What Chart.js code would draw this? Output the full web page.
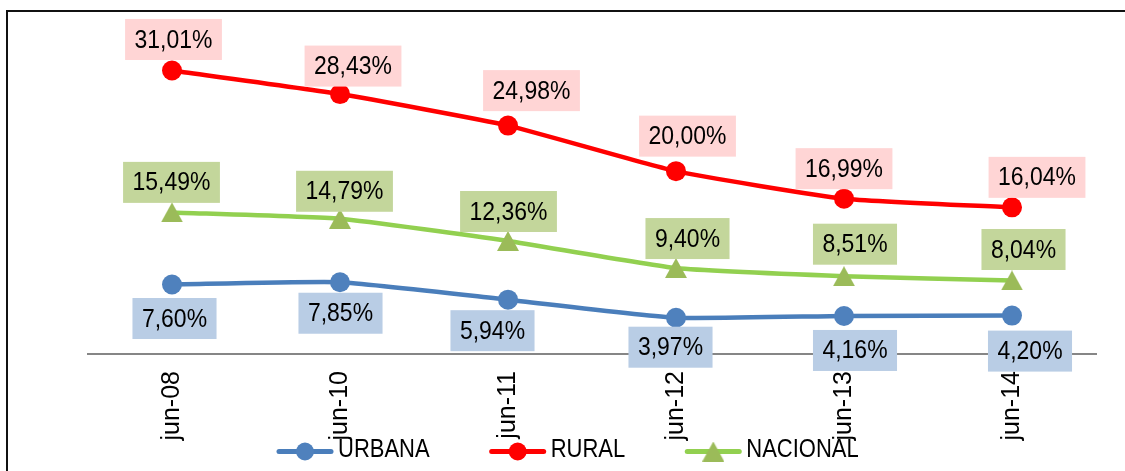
<!DOCTYPE html>
<html>
<head>
<meta charset="utf-8">
<script src="https://cdn.jsdelivr.net/npm/chart.js@4.4.1/dist/chart.umd.min.js"></script>
<style>
  body { margin: 0; background: #fff; }
  #wrap { position: relative; width: 1125px; height: 471px; }
  #frame { position: absolute; left: 6px; top: 10px; right: 0; bottom: 0;
           border-left: 2px solid #111; border-top: 2px solid #111; pointer-events: none; }
</style>
</head>
<body>
<div id="wrap">
  <canvas id="myChart"></canvas>
  <div id="frame"></div>
</div>
<script>
'use strict';
let categories = ['jun-08', 'jun-10', 'jun-11', 'jun-12', 'jun-13', 'jun-14'];
let urbana = [7.60, 7.85, 5.94, 3.97, 4.16, 4.20];
let rural = [31.01, 28.43, 24.98, 20.00, 16.99, 16.04];
let nacional = [15.49, 14.79, 12.36, 9.40, 8.51, 8.04];
let seriesNames = ['URBANA', 'RURAL', 'NACIONAL'];

let fontFam = "'Liberation Sans', Arial, sans-serif";

function pct(v) {
    return v.toFixed(2).replace('.', ',') + '%';
}

// triangle marker centred on its bounding box (like Excel)
function makeTriangle(w, h, color) {
    let c = document.createElement('canvas');
    c.width = w;
    c.height = h;
    let g = c.getContext('2d');
    g.fillStyle = color;
    g.beginPath();
    g.moveTo(0, h);
    g.lineTo(w, h);
    g.lineTo(w / 2, 0);
    g.closePath();
    g.fill();
    return c;
}

let triMarker = makeTriangle(22, 20, '#9BBB59');

// narrow text: normal font squeezed horizontally
function narrowText(ctx, txt, x, y, sx) {
    ctx.save();
    ctx.translate(x, y);
    ctx.scale(sx, 1);
    ctx.fillText(txt, 0, 0);
    ctx.restore();
}

let boxLabels = {
    id: 'boxLabels',
    afterDatasetsDraw(chart, args, opts) {
        let ctx = chart.ctx;
        ctx.save();
        ctx.font = opts.size + 'px ' + fontFam;
        ctx.textAlign = 'center';
        ctx.textBaseline = 'middle';
        chart.data.datasets.forEach(function (ds, i) {
            let meta = chart.getDatasetMeta(i);
            meta.data.forEach(function (pt, j) {
                let txt = pct(ds.data[j]);
                let w = ctx.measureText(txt).width * opts.sx + opts.padX * 2;
                let h = opts.height;
                let cx = pt.x + ds.labelDx[j];
                let cy = pt.y + ds.labelDy[j];
                ctx.fillStyle = ds.labelBg;
                ctx.fillRect(cx - w / 2, cy - h / 2, w, h);
                ctx.fillStyle = '#000';
                narrowText(ctx, txt, cx, cy + 1, opts.sx);
            });
        });
        ctx.restore();
    },
    // legend drawn by hand: line + marker, then label
    afterDraw(chart, args, opts) {
        let ctx = chart.ctx;
        let lg = opts.legend;
        let x = lg.x;
        ctx.save();
        ctx.font = lg.size + 'px ' + fontFam;
        ctx.textAlign = 'left';
        ctx.textBaseline = 'middle';
        chart.data.datasets.forEach(function (ds) {
            ctx.strokeStyle = ds.borderColor;
            ctx.lineWidth = 5;
            ctx.lineCap = 'round';
            ctx.beginPath();
            ctx.moveTo(x + 2, lg.y + 1);
            ctx.lineTo(x + 54, lg.y + 1);
            ctx.stroke();
            ctx.fillStyle = ds.backgroundColor;
            if (ds.pointStyle === 'circle') {
                ctx.beginPath();
                ctx.arc(x + 28, lg.y + 1, 9, 0, Math.PI * 2);
                ctx.fill();
            } else {
                ctx.drawImage(ds.pointStyle, x + 17, lg.y - 9, 22, 20);
            }
            ctx.fillStyle = '#000';
            narrowText(ctx, ds.label, x + 61, lg.y, lg.sx);
            x += 61 + ctx.measureText(ds.label).width * lg.sx + lg.gap;
        });
        ctx.restore();
    }
};

let ctx = document.getElementById('myChart').getContext('2d');
let myChart = new Chart(ctx, {
    type: 'line',
    data: {
        labels: categories,
        datasets: [{
            label: seriesNames[0],
            data: urbana,
            borderColor: '#4A7EBB',
            backgroundColor: '#4F81BD',
            borderWidth: 4.5,
            pointRadius: 10,
            pointBorderWidth: 0,
            pointStyle: 'circle',
            labelBg: '#B9CDE5',
            labelDx: [2.5, 0.5, -15.5, -5.5, 11, 18],
            labelDy: [34, 31, 31, 29.5, 34.5, 35.5]
        }, {
            label: seriesNames[1],
            data: rural,
            borderColor: '#FF0000',
            backgroundColor: '#FF0000',
            borderWidth: 4.5,
            pointRadius: 10,
            pointBorderWidth: 0,
            pointStyle: 'circle',
            labelBg: '#FFD5D5',
            labelDx: [1.5, 13, 23.5, 11.5, 0, 25],
            labelDy: [-31, -28, -35, -35, -30, -30]
        }, {
            label: seriesNames[2],
            data: nacional,
            borderColor: '#92D050',
            backgroundColor: '#9BBB59',
            borderWidth: 4.5,
            pointRadius: 11,
            pointStyle: triMarker,
            labelBg: '#C3D69B',
            labelDx: [-0.5, 4.5, 0.5, 11.5, 11, 11.5],
            labelDy: [-30, -27.5, -29.5, -29.5, -32, -31]
        }]
    },
    options: {
        responsive: true,
        maintainAspectRatio: false,
        animation: false,
        tension: 0.15,
        layout: { padding: { left: 88, right: 29, top: 34, bottom: 0 } },
        scales: {
            x: {
                offset: true,
                grid: { display: false, drawTicks: false },
                border: { display: true, color: '#868686', width: 2 },
                ticks: {
                    minRotation: 90,
                    maxRotation: 90,
                    autoSkip: false,
                    padding: 17,
                    color: '#000',
                    font: { family: fontFam, size: 25 }
                },
                afterFit: function (s) { s.height = 117; }
            },
            y: {
                display: false,
                min: 0,
                max: 35
            }
        },
        plugins: {
            tooltip: { enabled: false },
            legend: { display: false },
            boxLabels: {
                size: 25.5, sx: 0.9, padX: 9.5, height: 41,
                legend: { x: 277, y: 450.5, size: 25, sx: 0.88, gap: 60 }
            }
        }
    },
    plugins: [boxLabels]
});
</script>
</body>
</html>
